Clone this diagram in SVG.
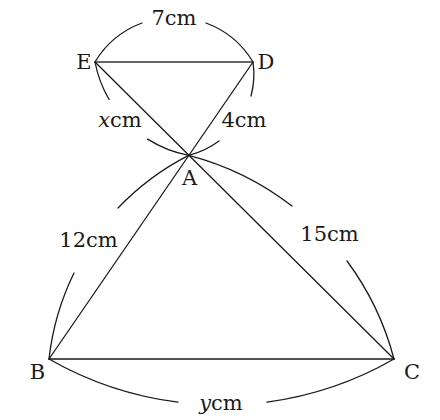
<svg xmlns="http://www.w3.org/2000/svg" width="440" height="420" viewBox="0 0 440 420">
<style>
.ln{stroke:#1a1a1a;stroke-width:1.3;fill:none;stroke-linecap:round}
.arc{stroke:#1a1a1a;stroke-width:1.3;fill:none;stroke-linecap:round}
.ed{stroke:#666;stroke-width:2;fill:none}
text{font-family:"DejaVu Serif","Liberation Serif",serif;font-size:21px;fill:#1a1a1a;text-anchor:middle}
.it{font-style:italic}
</style>
<rect width="440" height="420" fill="#fff"/>
<g id="connectors">
<line class="ed" x1="95" y1="62" x2="253" y2="62"/>
<line class="ln" x1="95" y1="62" x2="394" y2="359"/>
<line class="ln" x1="253" y1="62" x2="49" y2="359"/>
<line class="ln" x1="49" y1="359" x2="394" y2="359"/>
<path class="arc" d="M95 62 A92.1 92.1 0 0 1 142 23 M206 23 A92.1 92.1 0 0 1 253 62"/>
<path class="arc" d="M95 62 A117 117 0 0 0 109.1 99.5 M147.6 139.1 A117 117 0 0 0 188.7 155.3"/>
<path class="arc" d="M253 62 A84 84 0 0 1 251 96 M219 141 A84 84 0 0 1 188.7 155.3"/>
<path class="arc" d="M188.7 155.3 A262 262 0 0 0 118 208 M74 273 A262 262 0 0 0 49 359"/>
<path class="arc" d="M188.7 155.3 A287 287 0 0 1 292 206 M347 261 A287 287 0 0 1 394 359"/>
<path class="arc" d="M49 359 A347 347 0 0 0 178 402.2 M267 402.1 A347 347 0 0 0 394 359"/>
</g>
<g id="node-E"><text x="84" y="68.5">E</text></g>
<g id="node-D"><text x="266" y="68.5">D</text></g>
<g id="node-A"><text x="189.5" y="185">A</text></g>
<g id="node-B"><text x="37.5" y="378.5">B</text></g>
<g id="node-C"><text x="412" y="378.5">C</text></g>
<g id="labels">
<text x="174" y="25">7cm</text>
<text x="120" y="127"><tspan class="it">x</tspan>cm</text>
<text x="244" y="127">4cm</text>
<text x="88.5" y="246.5">12cm</text>
<text x="329.5" y="241">15cm</text>
<text x="221" y="410"><tspan class="it">y</tspan>cm</text>
</g>
</svg>
